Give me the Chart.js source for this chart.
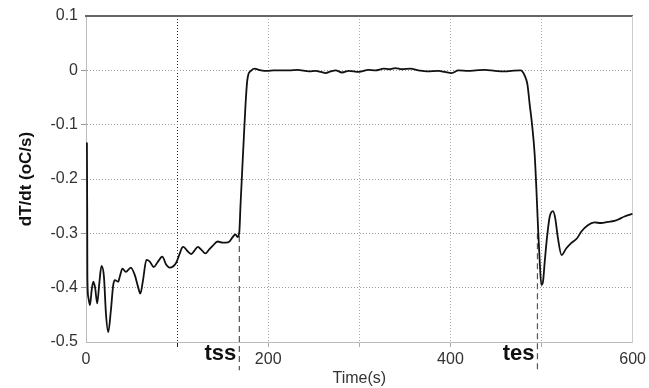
<!DOCTYPE html>
<html>
<head>
<meta charset="utf-8">
<script src="https://cdn.jsdelivr.net/npm/chart.js@4/dist/chart.umd.min.js"></script>
<style>
  html, body { margin: 0; padding: 0; background: #fff; }
  #wrap { width: 649px; height: 388px; }
</style>
</head>
<body>
<div id="wrap"><canvas id="chart"></canvas></div>
<script>
// time (s) and dT/dt (oC/s)
const timeS = [
  1.0, 1.3, 1.5, 2.5, 4.4, 6.2, 8.0, 10.0, 12.3, 14.6, 17.0, 19.7, 21.9, 24.4, 27.3, 29.9,
  31.7, 35.3, 37.2, 40.0, 43.7, 49.2, 53.6, 57.2, 59.7, 62.6, 66.3, 70.0, 74.3, 79.0, 83.7,
  88.1, 91.8, 99.0, 102.7, 105.6, 107.0, 111.0, 115.5, 119.0, 122.7, 127.0, 131.0, 135.0,
  139.0, 144.6, 150.0, 156.6, 161.0, 164.0, 166.5, 168.3, 169.6, 171.4, 173.2, 175.1, 176.9,
  178.5, 180.3, 184.7, 192, 199, 206, 214, 223, 232, 245, 252, 258, 263, 268.5, 274, 281,
  288.5, 299.5, 310, 317.6, 326.8, 333, 339.6, 346.8, 356, 365, 374, 387, 394, 401.4, 408.7,
  419.7, 428, 437.9, 448.8, 459.8, 467, 477, 481.6, 484.5, 487, 489.6, 492.5, 494.3, 496.2,
  498, 499.8, 501.6, 503.5, 506.3, 509, 512.6, 515, 518, 522, 527, 532.5, 539, 543.5, 550.8,
  558, 565.4, 572.6, 580, 583.6, 591, 600
];
const dTdt = [
  -0.133, -0.25, -0.377, -0.417, -0.432, -0.405, -0.389, -0.40, -0.429, -0.392, -0.360, -0.380,
  -0.448, -0.482, -0.442, -0.395, -0.386, -0.389, -0.379, -0.365, -0.371, -0.363, -0.377,
  -0.399, -0.411, -0.386, -0.349, -0.352, -0.362, -0.352, -0.343, -0.358, -0.363, -0.354,
  -0.338, -0.326, -0.325, -0.332, -0.338, -0.332, -0.325, -0.331, -0.337, -0.330, -0.323,
  -0.315, -0.317, -0.316, -0.307, -0.302, -0.307, -0.297, -0.248, -0.186, -0.125, -0.063,
  -0.020, -0.006, -0.002, 0.003, 0.000, -0.001, 0.000, 0.000, 0.000, 0.001, -0.002, -0.001,
  -0.003, -0.005, -0.002, 0.000, -0.004, -0.001, -0.003, 0.001, 0.000, 0.003, 0.002, 0.004,
  0.002, 0.003, 0.000, -0.002, -0.001, -0.003, -0.005, 0.000, -0.001, 0.000, 0.001, -0.001,
  -0.002, -0.001, 0.000, -0.010, -0.026, -0.063, -0.100, -0.156, -0.217, -0.291, -0.352,
  -0.395, -0.389, -0.352, -0.303, -0.269, -0.259, -0.272, -0.309, -0.340, -0.328, -0.318,
  -0.309, -0.297, -0.285, -0.280, -0.281, -0.279, -0.277, -0.275, -0.269, -0.264
];

// tss / tes markers
const eventNames = ['tss', 'tes'];
const eventTimes = [168.3, 495.5];
const eventTop = [-0.305, -0.30];
const eventBottom = [-0.552, -0.552];

const xLabelled = [0, 200, 400, 600];

const points = timeS.map((t, i) => ({ x: t, y: dTdt[i] }));

const markerSets = eventTimes.map((t, i) => ({
  data: [{ x: t, y: eventTop[i] }, { x: t, y: eventBottom[i] }],
  borderColor: '#555',
  borderWidth: 1.2,
  borderDash: [6, 4],
  pointRadius: 0,
  clip: false
}));

const eventText = {
  id: 'eventText',
  afterDatasetsDraw(chart) {
    const { ctx, scales: { x } } = chart;
    ctx.save();
    ctx.font = 'bold 22px "Liberation Sans", Arial, sans-serif';
    ctx.fillStyle = '#111';
    ctx.textAlign = 'right';
    ctx.textBaseline = 'alphabetic';
    eventNames.forEach((name, i) => {
      ctx.fillText(name, x.getPixelForValue(eventTimes[i]) - 3, chart.chartArea.bottom + 18);
    });
    ctx.restore();
  }
};

const font = { family: '"Liberation Sans", Arial, sans-serif', size: 16 };

new Chart(document.getElementById('chart'), {
  type: 'line',
  data: {
    datasets: [{
      data: points,
      borderColor: '#111',
      borderWidth: 1.8,
      pointRadius: 0,
      cubicInterpolationMode: 'monotone'
    }, ...markerSets]
  },
  options: {
    responsive: true,
    maintainAspectRatio: false,
    animation: false,
    layout: { padding: { top: 16, right: 14, left: 0, bottom: 0 } },
    plugins: { legend: { display: false }, tooltip: { enabled: false } },
    scales: {
      x: {
        type: 'linear',
        min: 0, max: 600,
        afterFit: s => { s.height = 46; },
        ticks: {
          stepSize: 100,
          padding: 3,
          color: '#333',
          font,
          maxRotation: 0,
          autoSkip: false,
          callback: v => xLabelled.includes(v) ? String(v) : ''
        },
        grid: {
          color: c => c.tick && c.tick.value === 100 ? '#222' :
                      (c.tick && (c.tick.value === 0 || c.tick.value === 600) ? 'rgba(0,0,0,0)' : '#aaa'),
          tickLength: 5
        },
        border: { color: '#bbb', dash: [1, 2] },
        title: { display: true, text: 'Time(s)', color: '#333', font, padding: { top: 0, bottom: 0 } }
      },
      y: {
        min: -0.5, max: 0.1,
        afterFit: s => { s.width = 86; },
        ticks: {
          stepSize: 0.1,
          padding: 3,
          color: '#333',
          font,
          callback: v => String(Math.round(v * 10) / 10)
        },
        grid: {
          color: c => c.tick && (Math.abs(c.tick.value - 0.1) < 1e-6 || Math.abs(c.tick.value + 0.5) < 1e-6) ? 'rgba(0,0,0,0)' : '#999',
          tickLength: 5
        },
        border: { color: '#bbb', dash: [1, 2] },
        title: {
          display: true, text: 'dT/dt (oC/s)', color: '#111',
          font: { family: font.family, size: 17, weight: 'bold' },
          padding: { top: 16, bottom: 0 }
        }
      },
      x2: {
        type: 'linear', position: 'top',
        afterFit: s => { s.height = 0; },
        ticks: { display: false },
        grid: { display: false, drawTicks: false },
        border: { color: '#666', width: 2 }
      },
      y2: {
        position: 'right',
        afterFit: s => { s.width = 0; },
        ticks: { display: false },
        grid: { display: false, drawTicks: false },
        border: { color: '#ccc', width: 1 }
      }
    }
  },
  plugins: [eventText]
});
</script>
</body>
</html>
